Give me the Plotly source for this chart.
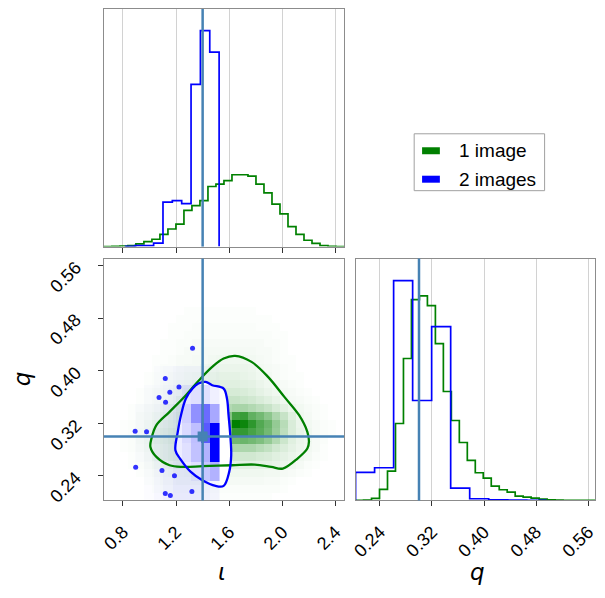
import plotly.graph_objects as go

# ---------------- data ----------------
IOTA_RANGE = [0.657, 2.464]
Q_RANGE = [0.2025, 0.5706]
IOTA_TRUE = 1.4
Q_TRUE = 0.30
IOTA_TICKS = [0.8, 1.2, 1.6, 2.0, 2.4]
IOTA_TICK_TEXT = ["0.8", "1.2", "1.6", "2.0", "2.4"]
Q_TICKS = [0.24, 0.32, 0.40, 0.48, 0.56]
Q_TICK_TEXT = ["0.24", "0.32", "0.40", "0.48", "0.56"]
N_BINS = 30

# 1-D marginals (arbitrary density units)
GREEN_IOTA_HIST = [0, 0.2, 0.6, 1.0, 2.7, 5, 7.5, 12.5, 18, 23, 37, 42, 47, 61.5, 64,
                   67.5, 73.5, 73.5, 72, 64, 55, 43.5, 33.5, 20.5, 12.5, 6.5, 3.3, 1, 0.3, 0]
BLUE_IOTA_START = 0.820
BLUE_IOTA_WIDTH = 0.0704
BLUE_IOTA_HIST = [0.3, 1, 1, 3.5, 45.5, 47, 44, 166, 221, 199]

GREEN_Q_HIST = [0, 0.3, 2, 11, 29.3, 77, 142, 201, 204.7, 195, 157, 109, 80, 58, 40,
                27.7, 22.3, 14.3, 10.7, 8.3, 4.3, 3.3, 2.3, 1.3, 0.7, 0.4, 0.2, 0.2, 0.1, 0.1]
BLUE_Q_START = 0.2025
BLUE_Q_WIDTH = 0.02924
BLUE_Q_HIST = [28, 32.7, 220, 100, 174, 12.3, 1.7, 0.5, 0.3, 0.2]

# 2-D densities (percent of the maximum), rows = q bins (bottom -> top)
GREEN_DENSITY = [
    [0,0,0,0,0,0,0,0,1,1,1,1,1,1,1,1,1,1,1,1,1,0,0,0,0,0,0,0,0,0],
    [0,0,0,0,0,0,1,2,2,2,2,2,2,2,2,2,2,2,2,2,2,2,1,0,0,0,0,0,0,0],
    [0,0,0,0,0,1,2,3,3,4,4,4,4,4,4,4,4,4,4,4,3,3,2,1,0,0,0,0,0,0],
    [0,0,0,0,1,2,3,4,5,5,6,6,6,6,6,6,6,6,6,6,5,5,4,3,2,1,0,0,0,0],
    [0,0,0,1,2,3,5,6,8,9,10,10,10,10,10,11,11,11,11,10,10,9,8,6,4,2,1,0,0,0],
    [0,0,0,1,2,4,8,10,12,12,14,15,15,15,15,16,18,18,18,16,15,12,10,8,6,4,2,1,0,0],
    [0,0,1,2,3,5,8,10,12,14,16,18,20,22,25,28,32,32,32,28,24,18,14,10,7,5,3,1,0,0],
    [0,0,1,2,4,6,10,12,14,16,18,22,26,30,36,42,55,58,55,50,42,30,20,12,8,6,3,2,0,0],
    [0,0,1,2,4,6,10,12,14,16,20,24,30,36,45,55,80,80,72,65,55,40,26,15,9,6,3,2,1,0],
    [0,0,1,2,3,5,8,10,12,16,20,25,30,38,48,62,100,95,82,68,58,42,28,15,8,5,3,2,1,0],
    [0,0,0,1,3,4,6,8,10,14,18,22,26,32,40,48,75,78,62,55,45,32,22,12,6,4,2,1,0,0],
    [0,0,0,1,2,3,4,6,8,12,15,18,22,26,30,30,34,34,30,26,22,16,11,7,5,3,2,1,0,0],
    [0,0,0,0,1,2,3,4,6,10,12,15,18,20,20,22,22,20,18,15,12,9,6,4,3,2,1,0,0,0],
    [0,0,0,0,1,2,3,4,5,6,8,12,14,15,15,16,16,15,13,10,8,6,4,3,2,1,0,0,0,0],
    [0,0,0,0,0,1,2,3,4,5,6,8,10,12,12,12,12,11,10,8,6,4,3,2,1,0,0,0,0,0],
    [0,0,0,0,0,1,2,2,3,4,5,6,8,9,10,10,10,9,8,6,5,3,2,1,1,0,0,0,0,0],
    [0,0,0,0,0,0,1,2,2,3,4,4,6,7,8,8,8,8,7,5,4,3,2,1,0,0,0,0,0,0],
    [0,0,0,0,0,0,1,1,2,3,3,4,4,5,6,6,6,6,5,4,3,2,1,1,0,0,0,0,0,0],
    [0,0,0,0,0,0,0,1,1,2,3,3,4,4,4,4,4,4,4,3,3,2,1,0,0,0,0,0,0,0],
    [0,0,0,0,0,0,0,1,1,2,2,3,3,3,3,3,3,3,3,3,2,2,1,0,0,0,0,0,0,0],
    [0,0,0,0,0,0,0,0,1,1,2,2,2,2,2,2,2,2,2,2,2,1,1,0,0,0,0,0,0,0],
    [0,0,0,0,0,0,0,0,1,1,1,2,2,2,2,2,2,2,2,1,1,1,0,0,0,0,0,0,0,0],
    [0,0,0,0,0,0,0,0,0,1,1,1,1,1,1,1,1,1,1,1,1,0,0,0,0,0,0,0,0,0],
    [0,0,0,0,0,0,0,0,0,0,1,1,1,1,1,1,1,1,1,0,0,0,0,0,0,0,0,0,0,0],
]
BLUE_DENSITY = [
    [0, 0, 1, 3, 5, 8, 8, 8, 6, 4],
    [0, 0, 1, 3, 5, 8, 8, 12, 22, 30],
    [0, 1, 2, 4, 5, 7, 12, 24, 30, 100],
    [0, 1, 2, 4, 5, 7, 15, 25, 65, 100],
    [0, 1, 2, 3, 5, 8, 18, 43, 58, 34],
    [0, 0, 1, 2, 3, 5, 10, 12, 12, 6],
    [0, 0, 0, 1, 2, 3, 3, 3, 2, 1],
]

GREEN_CONTOUR_IOTA = [1.015, 1.052, 1.151, 1.274, 1.373, 1.472, 1.558, 1.645, 1.768, 1.892,
                      2.015, 2.126, 2.188, 2.200, 2.188, 2.114, 2.003, 1.916, 1.793, 1.620,
                      1.398, 1.250, 1.151, 1.052, 1.007, 1.015]
GREEN_CONTOUR_Q = [0.2967, 0.3170, 0.3373, 0.3627, 0.3855, 0.4058, 0.4185, 0.4225, 0.4134, 0.3906,
                   0.3601, 0.3322, 0.3069, 0.2916, 0.2815, 0.2663, 0.2510, 0.2536, 0.2571, 0.2561,
                   0.2546, 0.2536, 0.2561, 0.2688, 0.2840, 0.2967]
BLUE_CONTOUR_IOTA = [1.368, 1.422, 1.472, 1.558, 1.583, 1.595, 1.608, 1.615, 1.600, 1.558,
                     1.497, 1.398, 1.311, 1.230, 1.195, 1.213, 1.237, 1.274, 1.324, 1.368]
BLUE_CONTOUR_Q = [0.3804, 0.3830, 0.3779, 0.3728, 0.3576, 0.3322, 0.3018, 0.2713, 0.2460, 0.2247,
                  0.2247, 0.2333, 0.2460, 0.2663, 0.2789, 0.3069, 0.3322, 0.3576, 0.3728, 0.3804]

BLUE_POINTS_IOTA = [1.119, 1.222, 1.153, 1.072, 1.121, 0.892, 0.978, 0.896, 1.094, 1.188,
                    1.119, 1.157, 1.319, 1.324]
BLUE_POINTS_Q = [0.388, 0.375, 0.367, 0.359, 0.352, 0.308, 0.307, 0.253, 0.248, 0.240,
                 0.213, 0.210, 0.216, 0.434]

LEGEND_LABELS = ["1 image", "2 images"]
GREEN = "#008000"
BLUE = "#0000ff"
TRUTH = "#4682b4"

# ---------------- helpers ----------------
PAGE_MARGIN = 8          # default body margin of the page
W, H = 589, 582


def px(x):
    return min(1.0, max(0.0, (x - PAGE_MARGIN) / W))


def py(y):
    return min(1.0, max(0.0, 1 - (y - PAGE_MARGIN) / H))


def edges(start, width, n):
    return [start + i * width for i in range(n + 1)]


def step_xy(e, h):
    return [e[0]] + e, [0] + list(h) + [0]


iota_w = (IOTA_RANGE[1] - IOTA_RANGE[0]) / N_BINS
q_w = (Q_RANGE[1] - Q_RANGE[0]) / N_BINS
green_iota_edges = edges(IOTA_RANGE[0], iota_w, N_BINS)
green_q_edges = edges(Q_RANGE[0], q_w, N_BINS)
blue_iota_edges = edges(BLUE_IOTA_START, BLUE_IOTA_WIDTH, len(BLUE_IOTA_HIST))
blue_q_edges = edges(BLUE_Q_START, BLUE_Q_WIDTH, len(BLUE_Q_HIST))

fig = go.Figure()

# top-left: iota marginal
for e, h, c in [(green_iota_edges, GREEN_IOTA_HIST, GREEN), (blue_iota_edges, BLUE_IOTA_HIST, BLUE)]:
    xs, ys = step_xy(e, h)
    fig.add_trace(go.Scatter(x=xs, y=ys, mode="lines", line=dict(color=c, width=1.7, shape="hv"),
                             xaxis="x", yaxis="y", showlegend=False, hoverinfo="skip"))

# bottom-right: q marginal
for e, h, c in [(green_q_edges, GREEN_Q_HIST, GREEN), (blue_q_edges, BLUE_Q_HIST, BLUE)]:
    xs, ys = step_xy(e, h)
    fig.add_trace(go.Scatter(x=xs, y=ys, mode="lines", line=dict(color=c, width=1.7, shape="hv"),
                             xaxis="x3", yaxis="y3", showlegend=False, hoverinfo="skip"))

# bottom-left layers
fig.add_trace(go.Heatmap(x=green_iota_edges, y=edges(Q_RANGE[0], q_w, len(GREEN_DENSITY)),
                         z=GREEN_DENSITY, zmin=0, zmax=100, showscale=False, hoverinfo="skip",
                         colorscale=[[0, "rgba(0,128,0,0)"], [1, "rgba(0,128,0,1)"]],
                         xaxis="x2", yaxis="y2"))
fig.add_trace(go.Scatter(x=BLUE_POINTS_IOTA, y=BLUE_POINTS_Q, mode="markers",
                         marker=dict(color="rgba(0,0,255,0.8)", size=5),
                         xaxis="x2", yaxis="y4", showlegend=False, hoverinfo="skip"))
fig.add_trace(go.Scatter(x=BLUE_CONTOUR_IOTA, y=BLUE_CONTOUR_Q, mode="lines", fill="toself",
                         fillcolor="white", line=dict(width=0, color="white", shape="spline"),
                         xaxis="x2", yaxis="y4", showlegend=False, hoverinfo="skip"))
fig.add_trace(go.Heatmap(x=blue_iota_edges, y=edges(BLUE_Q_START, BLUE_Q_WIDTH, len(BLUE_DENSITY)),
                         z=BLUE_DENSITY, zmin=0, zmax=100, showscale=False, hoverinfo="skip",
                         colorscale=[[0, "rgba(0,0,255,0)"], [1, "rgba(0,0,255,1)"]],
                         xaxis="x2", yaxis="y5"))
for cx, cy, c in [(GREEN_CONTOUR_IOTA, GREEN_CONTOUR_Q, GREEN), (BLUE_CONTOUR_IOTA, BLUE_CONTOUR_Q, BLUE)]:
    fig.add_trace(go.Scatter(x=cx, y=cy, mode="lines", line=dict(color=c, width=2.3, shape="spline"),
                             xaxis="x2", yaxis="y6", showlegend=False, hoverinfo="skip"))
fig.add_trace(go.Scatter(x=[IOTA_TRUE], y=[Q_TRUE], mode="markers",
                         marker=dict(symbol="square", size=10, color=TRUTH),
                         xaxis="x2", yaxis="y6", showlegend=False, hoverinfo="skip"))

# truth lines
shapes = [
    dict(type="line", xref="x", yref="y domain", x0=IOTA_TRUE, x1=IOTA_TRUE, y0=0, y1=1,
         line=dict(color=TRUTH, width=2.5)),
    dict(type="line", xref="x2", yref="y2 domain", x0=IOTA_TRUE, x1=IOTA_TRUE, y0=0, y1=1,
         line=dict(color=TRUTH, width=2.5)),
    dict(type="line", xref="x2 domain", yref="y2", x0=0, x1=1, y0=Q_TRUE, y1=Q_TRUE,
         line=dict(color=TRUTH, width=2.5)),
    dict(type="line", xref="x3", yref="y3 domain", x0=Q_TRUE, x1=Q_TRUE, y0=0, y1=1,
         line=dict(color=TRUTH, width=2.5)),
]
# legend box
shapes.append(dict(type="rect", xref="paper", yref="paper", x0=px(414), x1=px(546), y0=py(190), y1=py(133),
                   line=dict(color="#a0a0a0", width=1), fillcolor="white"))
for (y0, y1), c in [((146.5, 153.5), GREEN), ((175, 182), BLUE)]:
    shapes.append(dict(type="rect", xref="paper", yref="paper", x0=px(422), x1=px(440), y0=py(y1), y1=py(y0),
                       line=dict(width=0), fillcolor=c))

annotations = []
for lab, yc in zip(LEGEND_LABELS, [150, 178.5]):
    annotations.append(dict(text=lab, xref="paper", yref="paper", x=px(457), y=py(yc), xanchor="left",
                            yanchor="middle", showarrow=False,
                            font=dict(family="Liberation Sans", size=19, color="black")))
for t, x, y, ang in [("ι", 220, 572, 0), ("q", 478, 572, 0), ("q", 17, 378, -90)]:
    annotations.append(dict(text=f"<i>{t}</i>", xref="paper", yref="paper", x=px(x), y=py(y),
                            xanchor="center", yanchor="middle", showarrow=False, textangle=ang,
                            font=dict(family="DejaVu Sans", size=23, color="black")))

tickfont = dict(family="Liberation Sans", size=18, color="black")
# rotated y tick labels of the 2-D panel (hang below their ticks, as in the reference)
for val, txt in zip(Q_TICKS, Q_TICK_TEXT):
    annotations.append(dict(text=txt, xref="paper", yref="y2", x=px(84), y=val, xanchor="right",
                            yanchor="top", yshift=11, showarrow=False, textangle=-45, font=tickfont))

frame = dict(showline=True, mirror=True, linecolor="#8c8c8c", linewidth=1, zeroline=False)
lab_axis = dict(tickangle=-45, ticks="outside", ticklen=5, tickcolor="#333", tickfont=tickfont,
                ticklabeloverflow="allow", ticklabelstandoff=8)
xl = [px(100), px(343)]
xr = [px(354.7), px(597.5)]
yt = [py(246), py(3.3)]
yb = [py(500.3), py(258)]

fig.update_layout(
    width=W, height=H, autosize=False, margin=dict(l=0, r=0, t=0, b=0),
    paper_bgcolor="white", plot_bgcolor="white", showlegend=False,
    shapes=shapes, annotations=annotations,
    xaxis=dict(domain=xl, anchor="y", range=IOTA_RANGE, tickvals=IOTA_TICKS, showticklabels=False,
               ticks="outside", ticklen=5, tickcolor="#333", showgrid=True, gridcolor="#d2d2d2",
               gridwidth=1, **frame),
    yaxis=dict(domain=yt, anchor="x", range=[0, 1.1 * max(BLUE_IOTA_HIST)], showticklabels=False,
               ticks="", showgrid=False, **frame),
    xaxis2=dict(domain=xl, anchor="y2", range=IOTA_RANGE, tickvals=IOTA_TICKS, ticktext=IOTA_TICK_TEXT,
                showgrid=False, **lab_axis, **frame),
    yaxis2=dict(domain=yb, anchor="x2", range=Q_RANGE, tickvals=Q_TICKS, showticklabels=False,
                ticks="outside", ticklen=5, tickcolor="#333", showgrid=False, **frame),
    xaxis3=dict(domain=xr, anchor="y3", range=Q_RANGE, tickvals=Q_TICKS, ticktext=Q_TICK_TEXT,
                showgrid=True, gridcolor="#d2d2d2", gridwidth=1, **lab_axis, **frame),
    yaxis3=dict(domain=yb, anchor="x3", range=[0, 1.1 * max(BLUE_Q_HIST)], showticklabels=False,
                ticks="", showgrid=False, **frame),
)
for name in ["yaxis4", "yaxis5", "yaxis6"]:
    fig.update_layout({name: dict(overlaying="y2", range=Q_RANGE, visible=False, anchor="x2")})

fig.write_html("out.html")
